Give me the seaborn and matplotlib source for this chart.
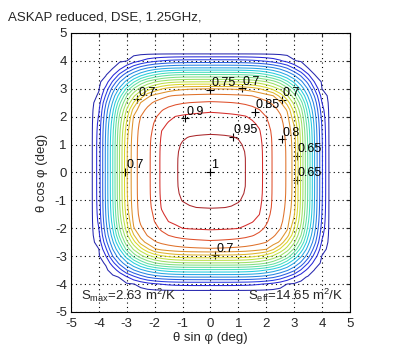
import numpy as np
import matplotlib
matplotlib.use("Agg")
import matplotlib.pyplot as plt
import seaborn as sns
import pandas as pd

# ---- data ----
title_text = "ASKAP reduced, DSE, 1.25GHz,"
ticks = [-5, -4, -3, -2, -1, 0, 1, 2, 3, 4, 5]
levels = [0.05, 0.10, 0.15, 0.20, 0.25, 0.30, 0.35, 0.40, 0.45, 0.50,
          0.55, 0.60, 0.65, 0.70, 0.75, 0.80, 0.85, 0.90, 0.95]
# radial (super-ellipse) beam profile: norm -> normalised sensitivity
profile_r = [0.0, 1.35, 2.15, 2.5, 2.78, 2.95, 3.02, 3.1, 3.2, 3.29, 3.38,
             3.46, 3.53, 3.61, 3.70, 3.80, 3.90, 3.98, 4.08, 4.2, 5.0, 8.0]
profile_v = [1.0, 0.95, 0.90, 0.85, 0.80, 0.75, 0.70, 0.65, 0.60, 0.55, 0.50,
             0.45, 0.40, 0.35, 0.30, 0.25, 0.20, 0.15, 0.10, 0.05, 0.0, 0.0]
# x-compression and central ridge of the inner contours
aniso_r = [0.0, 1.4, 2.15, 2.6, 8.0]
aniso_sx = [0.97, 0.97, 0.91, 1.0, 1.0]
ridge_r = [0.0, 2.4, 3.0, 8.0]
ridge_k = [0.08, 0.06, 0.0, 0.0]
shape_power = 4.3
centre_x, centre_y = 0.03, 0.05

# contour labels (MATLAB clabel style "+" markers)
label_x = [0.0, 1.12, -2.62, -0.91, 1.59, 2.55, 0.80, 2.55, 3.09, -3.06, 0.0, 3.09, 0.16]
label_y = [2.96, 3.02, 2.62, 1.94, 2.18, 2.60, 1.28, 1.19, 0.59, 0.03, 0.03, -0.27, -2.96]
label_txt = ["0.75", "0.7", "0.7", "0.9", "0.85", "0.7", "0.95", "0.8", "0.65",
             "0.7", "1", "0.65", "0.7"]

s_max_text = r"S$_{\rm max}$=2.63 m$^2$/K"
s_eff_text = r"S$_{\rm eff}$=14.65 m$^2$/K"

# ---- build field ----
grid = np.arange(-6, 6.001, 0.25)
X, Y = np.meshgrid(grid, grid)
DX, DY = np.abs(X - centre_x), np.abs(Y - centre_y)
R0 = (DX ** shape_power + DY ** shape_power) ** (1 / shape_power)
SX = np.interp(R0, aniso_r, aniso_sx)
K = np.interp(R0, ridge_r, ridge_k)
R = ((DX / SX) ** shape_power + DY ** shape_power) ** (1 / shape_power) + K * DX
Z = np.interp(R, profile_r, profile_v)

sns.set_style("white")
plt.rcParams["font.family"] = ["Liberation Sans", "DejaVu Sans"]
plt.rcParams["mathtext.fontset"] = "custom"
plt.rcParams["mathtext.rm"] = "Liberation Sans"

fig = plt.figure(figsize=(4.03, 3.45), dpi=100)
ax = fig.add_axes([0.176, 0.0957, 0.6923, 0.8087])

jet = matplotlib.colormaps["jet"]
cols = [tuple(0.72 * np.array(jet(l)[:3]) + 0.28 * np.array([0.55, 0.55, 0.6])) for l in levels]
ax.contour(X, Y, Z, levels=levels, colors=cols, linewidths=0.75)

lab = pd.DataFrame({"x": label_x, "y": label_y, "t": label_txt})
sns.scatterplot(data=lab, x="x", y="y", marker="+", color="black", s=30,
                linewidth=0.8, ax=ax, legend=False)
for _, row in lab.iterrows():
    ax.text(row.x + 0.04, row.y + 0.02, row.t, fontsize=9, color="black",
            ha="left", va="bottom")

ax.set_xlim(-5, 5)
ax.set_ylim(-5, 5)
ax.set_xticks(ticks)
ax.set_yticks(ticks)
ax.set_xticklabels([str(t) for t in ticks], fontsize=9.5)
ax.set_yticklabels([str(t) for t in ticks], fontsize=9.5)
ax.tick_params(direction="in", length=3, width=0.8, top=True, right=True)
ax.tick_params(axis="x", pad=4)
ax.tick_params(axis="y", pad=3)
ax.grid(True, linestyle=(0, (1, 3)), color="black", linewidth=0.8)
for sp in ax.spines.values():
    sp.set_color("black")
    sp.set_linewidth(0.8)
ax.set_xlabel("θ sin φ (deg)", fontsize=9.5, labelpad=2)
ax.set_ylabel("θ cos φ (deg)", fontsize=9.5, labelpad=5)

ax.text(-4.65, -4.55, s_max_text, fontsize=9.5, ha="left", va="baseline")
ax.text(1.35, -4.55, s_eff_text, fontsize=9.5, ha="left", va="baseline")

fig.text(0.02, 0.95, title_text, fontsize=9.5, ha="left", va="center")

fig.savefig("out.png", dpi=100, facecolor="white")
